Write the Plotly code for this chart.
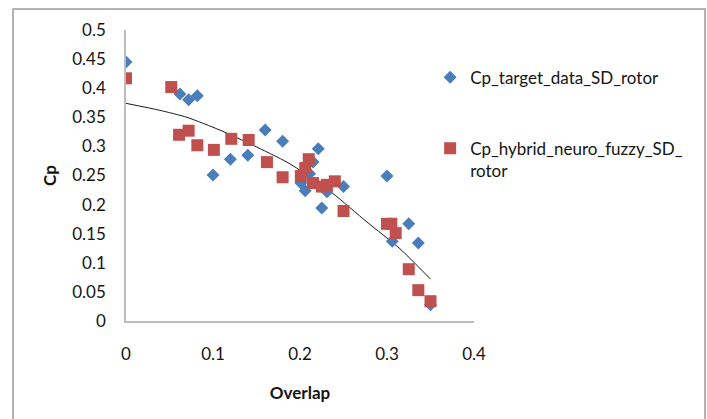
import plotly.graph_objects as go

# Overlap ratio and power coefficient, measured target data
target_overlap = [0.0, 0.062, 0.072, 0.082, 0.10, 0.12, 0.14, 0.16, 0.18,
                  0.201, 0.206, 0.211, 0.215, 0.221, 0.225, 0.231, 0.25,
                  0.30, 0.306, 0.325, 0.336, 0.35]
target_cp = [0.445, 0.390, 0.380, 0.387, 0.251, 0.278, 0.285, 0.328, 0.309,
             0.237, 0.224, 0.253, 0.273, 0.296, 0.194, 0.222, 0.231,
             0.249, 0.137, 0.167, 0.134, 0.028]

# Hybrid neuro-fuzzy model output
model_overlap = [0.0, 0.052, 0.061, 0.072, 0.082, 0.101, 0.121, 0.141, 0.162,
                 0.18, 0.201, 0.206, 0.21, 0.215, 0.225, 0.231, 0.24, 0.25,
                 0.30, 0.305, 0.31, 0.325, 0.336, 0.35]
model_cp = [0.417, 0.402, 0.320, 0.327, 0.302, 0.294, 0.313, 0.311, 0.273,
            0.247, 0.249, 0.263, 0.278, 0.237, 0.231, 0.234, 0.240, 0.189,
            0.167, 0.167, 0.151, 0.089, 0.053, 0.034]

# Polynomial trendline, sampled along its course
trend_overlap = [0.0, 0.039, 0.070, 0.108, 0.146, 0.185, 0.200, 0.223,
                 0.238, 0.277, 0.315, 0.350]
trend_cp = [0.374, 0.362, 0.350, 0.328, 0.302, 0.273, 0.259, 0.235,
            0.219, 0.170, 0.124, 0.072]

x_ticks = [0, 0.1, 0.2, 0.3, 0.4]
x_tick_text = ["0", "0.1", "0.2", "0.3", "0.4"]
y_ticks = [0, 0.05, 0.1, 0.15, 0.2, 0.25, 0.3, 0.35, 0.4, 0.45, 0.5]
y_tick_text = ["0", "0.05", "0.1", "0.15", "0.2", "0.25", "0.3", "0.35",
               "0.4", "0.45", "0.5"]

FONT = "Lato"
TEXT = "#141414"
FS = 17

fig = go.Figure()
fig.add_trace(go.Scatter(
    x=trend_overlap, y=trend_cp, mode="lines", showlegend=False,
    line=dict(color="#1a1a1a", width=1, shape="spline", smoothing=0.6),
    hoverinfo="skip"))
fig.add_trace(go.Scatter(
    x=target_overlap, y=target_cp, mode="markers",
    name="Cp_target_data_SD_rotor", legendgroup="a",
    marker=dict(symbol="diamond", size=10, color="#4a7ebb")))
fig.add_trace(go.Scatter(
    x=model_overlap, y=model_cp, mode="markers",
    name="Cp_hybrid_neuro_fuzzy_SD_<br>rotor", legendgroup="b",
    marker=dict(symbol="square", size=12, color="#c0504d")))

fig.update_layout(
    width=707, height=419,
    margin=dict(l=126, r=233, t=30, b=98),
    paper_bgcolor="white", plot_bgcolor="white",
    font=dict(family=FONT, size=FS, color=TEXT),
    legend=dict(x=0.874, y=0.898, xanchor="left", yanchor="top",
                traceorder="grouped", tracegroupgap=46, valign="top",
                font=dict(family=FONT, size=FS, color=TEXT),
                bgcolor="rgba(0,0,0,0)"),
    xaxis=dict(range=[0, 0.4], tickvals=x_ticks, ticktext=x_tick_text,
               showgrid=False, zeroline=False, showline=True,
               linecolor="#bdbdbd", linewidth=1.5, ticks="",
               ticklabelstandoff=17,
               tickfont=dict(family=FONT, size=FS, color=TEXT),
               title=dict(text="<b>Overlap</b>", standoff=24,
                          font=dict(family=FONT, size=FS, color=TEXT))),
    yaxis=dict(range=[0, 0.5], tickvals=y_ticks, ticktext=y_tick_text,
               showgrid=False, zeroline=False, showline=True,
               linecolor="#bdbdbd", linewidth=1.5, ticks="",
               ticklabelstandoff=15,
               tickfont=dict(family=FONT, size=FS, color=TEXT),
               title=dict(text="<b>Cp</b>", standoff=11,
                          font=dict(family=FONT, size=FS, color=TEXT))),
    shapes=[dict(type="rect", xref="paper", yref="paper",
                 x0=(13 - 126) / 348, x1=(705 - 126) / 348,
                 y0=-0.4, y1=(321 - 9) / 291,
                 line=dict(color="#9a9a9a", width=1.5), layer="below")],
)

fig.write_html("out.html")
